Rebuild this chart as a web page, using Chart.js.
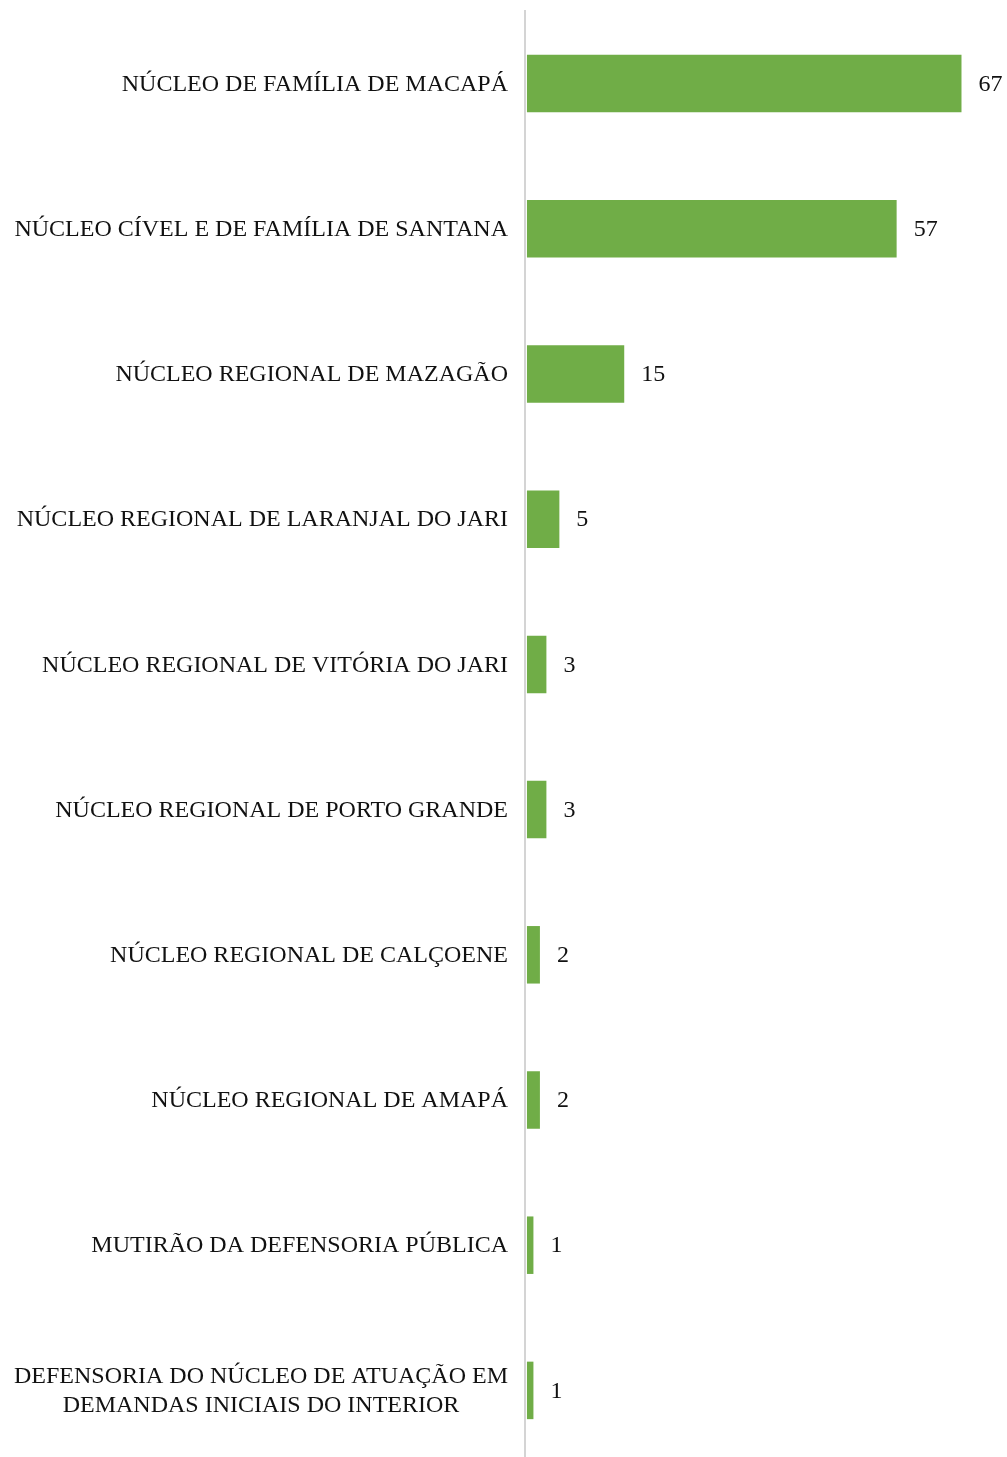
<!DOCTYPE html>
<html>
<head>
<meta charset="utf-8">
<script src="https://cdn.jsdelivr.net/npm/chart.js@4.4.0/dist/chart.umd.min.js"></script>
<style>
  html, body { margin: 0; padding: 0; background: #fff; overflow: hidden; }
  #wrap { width: 1007px; height: 1463px; position: relative; }
</style>
</head>
<body>
<div id="wrap"><canvas id="chart"></canvas></div>
<script>
// categories (multi-line labels as arrays)
const categories = [
  'NÚCLEO DE FAMÍLIA DE MACAPÁ',
  'NÚCLEO CÍVEL E DE FAMÍLIA DE SANTANA',
  'NÚCLEO REGIONAL DE MAZAGÃO',
  'NÚCLEO REGIONAL DE LARANJAL DO JARI',
  'NÚCLEO REGIONAL DE VITÓRIA DO JARI',
  'NÚCLEO REGIONAL DE PORTO GRANDE',
  'NÚCLEO REGIONAL DE CALÇOENE',
  'NÚCLEO REGIONAL DE AMAPÁ',
  'MUTIRÃO DA DEFENSORIA PÚBLICA',
  ['DEFENSORIA DO NÚCLEO DE ATUAÇÃO EM', 'DEMANDAS INICIAIS DO INTERIOR']
];
const values = [67, 57, 15, 5, 3, 3, 2, 2, 1, 1];

const FONT = '24px "Liberation Serif", "Times New Roman", serif';
const AXIS_X = 525;

// draws category labels (right aligned, multi-line centred) and value labels
const labelsPlugin = {
  id: 'labels',
  afterDatasetsDraw(chart) {
    const ctx = chart.ctx;
    const y = chart.scales.y;
    const meta = chart.getDatasetMeta(0);
    ctx.save();
    ctx.font = FONT;
    ctx.fillStyle = '#111';
    ctx.textBaseline = 'middle';
    categories.forEach((cat, i) => {
      const cy = y.getPixelForValue(i);
      const lines = Array.isArray(cat) ? cat : [cat];
      const right = AXIS_X - 17;
      const lh = 29;
      if (lines.length === 1) {
        ctx.textAlign = 'right';
        ctx.fillText(lines[0], right, cy + 1);
      } else {
        const maxW = Math.max(...lines.map(l => ctx.measureText(l).width));
        const cx = right - maxW / 2;
        ctx.textAlign = 'center';
        lines.forEach((l, k) => {
          ctx.fillText(l, cx, cy + 1 + (k - (lines.length - 1) / 2) * lh);
        });
      }
      const bar = meta.data[i];
      ctx.textAlign = 'left';
      ctx.fillText(String(values[i]), bar.x + 17, cy + 1);
    });
    ctx.restore();
  }
};

new Chart(document.getElementById('chart'), {
  type: 'bar',
  data: {
    labels: categories,
    datasets: [{
      data: values,
      backgroundColor: '#70AD47',
      borderWidth: 0,
      barPercentage: 0.396,
      categoryPercentage: 1
    }]
  },
  options: {
    indexAxis: 'y',
    responsive: true,
    maintainAspectRatio: false,
    animation: false,
    layout: { padding: { top: 11, right: 28, left: 0, bottom: 0 } },
    plugins: { legend: { display: false }, tooltip: { enabled: false } },
    scales: {
      x: {
        min: -0.3, max: 69.7,
        display: false,
        grid: { display: false }
      },
      y: {
        grid: { display: false, drawTicks: false },
        border: { display: true, color: '#d4d4d4', width: 2 },
        ticks: { display: false },
        afterFit(scale) { scale.width = AXIS_X; }
      }
    }
  },
  plugins: [labelsPlugin]
});
</script>
</body>
</html>
